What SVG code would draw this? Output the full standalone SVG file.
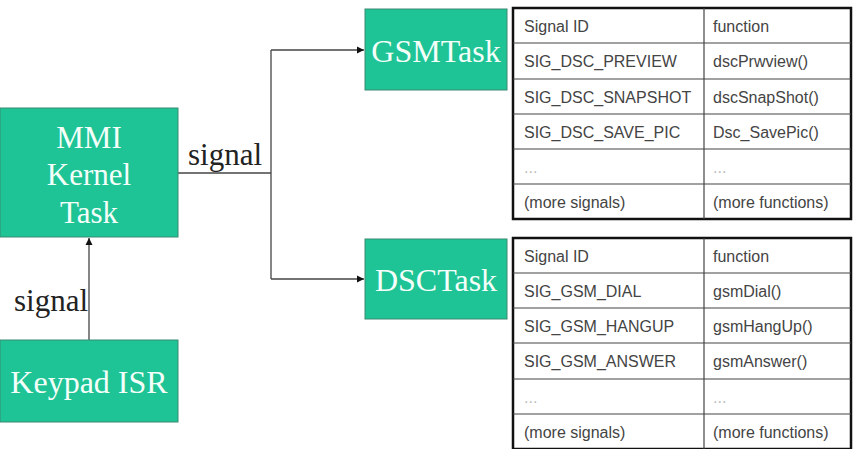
<svg xmlns="http://www.w3.org/2000/svg" width="859" height="449" viewBox="0 0 859 449">
<style>
.node{fill:#1fc496;stroke:#3a8a70;stroke-width:1}
.nt{font-family:"Liberation Serif",serif;fill:#f4fffa;text-anchor:middle}
.lbl{font-family:"Liberation Serif",serif;font-size:31px;fill:#222}
.conn{stroke:#444;stroke-width:1.3;fill:none}
.tt{font-family:"Liberation Sans",Arial,sans-serif;font-size:16px;fill:#444}
.td{font-family:"Liberation Sans",Arial,sans-serif;font-size:16px;fill:#bbb}
.outer{fill:#fff;stroke:#111;stroke-width:2.5}
.grid{stroke:#444;stroke-width:1.2}
</style>
<defs>
<marker id="ah" markerWidth="8" markerHeight="8" refX="7" refY="4" orient="auto" markerUnits="userSpaceOnUse">
<path d="M0,0.5 L7,4 L0,7.5 Z" fill="#111"/>
</marker>
</defs>
<rect width="859" height="449" fill="#fff"/>
<g id="connectors">
<polyline class="conn" points="178,173 271,173"/>
<polyline class="conn" points="271,50 271,279"/>
<line class="conn" x1="271" y1="50" x2="364" y2="50" marker-end="url(#ah)"/>
<line class="conn" x1="271" y1="279" x2="364" y2="279" marker-end="url(#ah)"/>
<line class="conn" x1="89" y1="340" x2="89" y2="238" marker-end="url(#ah)"/>
<text class="lbl" x="188" y="165">signal</text>
<text class="lbl" x="14" y="311">signal</text>
</g>
<g id="mmi">
<rect class="node" x="0" y="108" width="178" height="129"/>
<text class="nt" font-size="31" x="89" y="148">MMI</text>
<text class="nt" font-size="31" x="89" y="185">Kernel</text>
<text class="nt" font-size="31" x="89" y="223">Task</text>
</g>
<g id="keypad">
<rect class="node" x="0" y="340" width="178" height="82"/>
<text class="nt" font-size="32" x="89" y="393">Keypad ISR</text>
</g>
<g id="gsmtask">
<rect class="node" x="365" y="9" width="142" height="81"/>
<text class="nt" font-size="32" x="436" y="62">GSMTask</text>
</g>
<g id="dsctask">
<rect class="node" x="365" y="239" width="142" height="80"/>
<text class="nt" font-size="32" x="436" y="291">DSCTask</text>
</g>
<g id="table-gsm">
<rect class="outer" x="513" y="8" width="338" height="211"/>
<line class="grid" x1="704" y1="8" x2="704" y2="219"/>
<line class="grid" x1="513" y1="43" x2="851" y2="43"/>
<line class="grid" x1="513" y1="79" x2="851" y2="79"/>
<line class="grid" x1="513" y1="114" x2="851" y2="114"/>
<line class="grid" x1="513" y1="149" x2="851" y2="149"/>
<line class="grid" x1="513" y1="184" x2="851" y2="184"/>
<text class="tt" x="524" y="32">Signal ID</text><text class="tt" x="713" y="32">function</text>
<text class="tt" x="524" y="67">SIG_DSC_PREVIEW</text><text class="tt" x="713" y="67">dscPrwview()</text>
<text class="tt" x="524" y="103">SIG_DSC_SNAPSHOT</text><text class="tt" x="713" y="103">dscSnapShot()</text>
<text class="tt" x="524" y="138">SIG_DSC_SAVE_PIC</text><text class="tt" x="713" y="138">Dsc_SavePic()</text>
<text class="td" x="524" y="173">...</text><text class="td" x="713" y="173">...</text>
<text class="tt" x="524" y="208">(more signals)</text><text class="tt" x="713" y="208">(more functions)</text>
</g>
<g id="table-dsc">
<rect class="outer" x="513" y="238" width="338" height="211"/>
<line class="grid" x1="704" y1="238" x2="704" y2="449"/>
<line class="grid" x1="513" y1="273" x2="851" y2="273"/>
<line class="grid" x1="513" y1="308" x2="851" y2="308"/>
<line class="grid" x1="513" y1="343" x2="851" y2="343"/>
<line class="grid" x1="513" y1="379" x2="851" y2="379"/>
<line class="grid" x1="513" y1="414" x2="851" y2="414"/>
<text class="tt" x="524" y="262">Signal ID</text><text class="tt" x="713" y="262">function</text>
<text class="tt" x="524" y="297">SIG_GSM_DIAL</text><text class="tt" x="713" y="297">gsmDial()</text>
<text class="tt" x="524" y="332">SIG_GSM_HANGUP</text><text class="tt" x="713" y="332">gsmHangUp()</text>
<text class="tt" x="524" y="367">SIG_GSM_ANSWER</text><text class="tt" x="713" y="367">gsmAnswer()</text>
<text class="td" x="524" y="403">...</text><text class="td" x="713" y="403">...</text>
<text class="tt" x="524" y="438">(more signals)</text><text class="tt" x="713" y="438">(more functions)</text>
</g>
</svg>
